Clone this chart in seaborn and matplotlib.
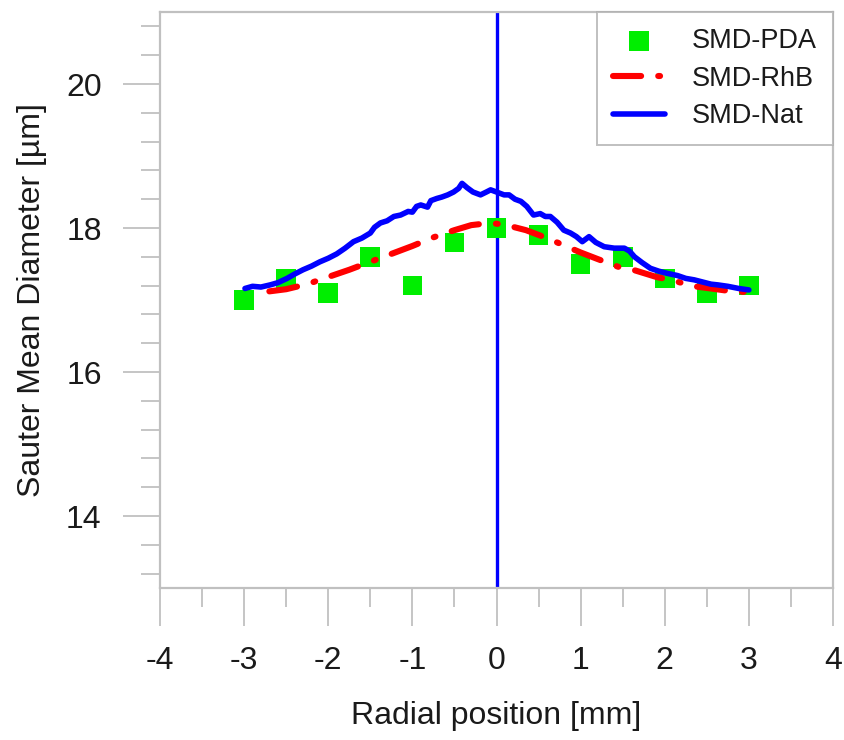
import matplotlib
matplotlib.use("Agg")
import matplotlib.pyplot as plt
import seaborn as sns
import pandas as pd
from matplotlib.ticker import MultipleLocator

# ---- data ----
pda_x = [-3, -2.5, -2, -1.5, -1, -0.5, 0, 0.5, 1, 1.5, 2, 2.5, 3]
pda_y = [17.0, 17.3, 17.1, 17.6, 17.2, 17.8, 18.0, 17.9, 17.5, 17.6, 17.3, 17.1, 17.2]

rhb_x = [-2.7, -2.5, -2.25, -2.0, -1.75, -1.5, -1.25, -1.0, -0.75, -0.5, -0.3, -0.15, 0.0,
         0.15, 0.35, 0.6, 0.8, 1.0, 1.2, 1.45, 1.65, 1.9, 2.1, 2.35, 2.55, 2.8, 3.0]
rhb_y = [17.12, 17.15, 17.22, 17.32, 17.42, 17.53, 17.64, 17.75, 17.87, 17.97, 18.04, 18.06, 18.06,
         18.03, 17.97, 17.86, 17.76, 17.66, 17.57, 17.46, 17.41, 17.32, 17.27, 17.19, 17.16, 17.12, 17.11]

nat_x = [-2.99, -2.9, -2.8, -2.69, -2.6, -2.49, -2.4, -2.3, -2.2, -2.1, -2.0, -1.9, -1.8, -1.7,
         -1.6, -1.5, -1.45, -1.38, -1.3, -1.22, -1.14, -1.05, -1.0, -0.95, -0.9, -0.82, -0.78,
         -0.71, -0.65, -0.58, -0.51, -0.45, -0.41, -0.35, -0.28, -0.19, -0.12, -0.07, 0.0,
         0.09, 0.15, 0.22, 0.29, 0.36, 0.44, 0.52, 0.58, 0.64, 0.72, 0.8, 0.88, 0.95, 1.02,
         1.1, 1.18, 1.28, 1.4, 1.52, 1.58, 1.64, 1.73, 1.83, 1.93, 2.03, 2.15, 2.25, 2.35,
         2.45, 2.55, 2.63, 2.75, 2.88, 3.0]
nat_y = [17.16, 17.19, 17.18, 17.21, 17.24, 17.30, 17.36, 17.42, 17.47, 17.53, 17.58, 17.64, 17.72,
         17.81, 17.86, 17.93, 18.01, 18.07, 18.10, 18.16, 18.18, 18.23, 18.22, 18.30, 18.32, 18.29,
         18.38, 18.41, 18.43, 18.46, 18.50, 18.55, 18.62, 18.56, 18.50, 18.46, 18.50, 18.53, 18.50,
         18.46, 18.46, 18.40, 18.37, 18.30, 18.18, 18.20, 18.16, 18.16, 18.08, 17.97, 17.93, 17.88, 17.81,
         17.88, 17.80, 17.74, 17.72, 17.72, 17.68, 17.60, 17.52, 17.44, 17.40, 17.37, 17.34, 17.30, 17.28,
         17.25, 17.22, 17.21, 17.19, 17.16, 17.14]

x_ticks = [-4, -3, -2, -1, 0, 1, 2, 3, 4]
y_ticks = [14, 16, 18, 20]

# ---- style ----
sns.set_style("white")
plt.rcParams['font.family'] = ['Liberation Sans', 'DejaVu Sans']

fig = plt.figure(figsize=(8.44, 7.40), dpi=100)
ax = fig.add_axes([160/844, 1 - 588/740, (833 - 160)/844, (588 - 12)/740])

pda = pd.DataFrame({"x": pda_x, "y": pda_y})
rhb = pd.DataFrame({"x": rhb_x, "y": rhb_y})
nat = pd.DataFrame({"x": nat_x, "y": nat_y})

ax.axvline(0, color="#0000ff", lw=2.4, zorder=1)
sns.scatterplot(data=pda, x="x", y="y", ax=ax, marker="s", s=200, color="#00ee00",
                edgecolor="none", label="SMD-PDA", zorder=2)
sns.lineplot(data=rhb, x="x", y="y", ax=ax, color="#ff0000", lw=4.4,
             label="SMD-RhB", zorder=3, sort=False)
ax.lines[-1].set_dashes([4.6, 2.8, 0.3, 2.8])
ax.lines[-1].set_dash_capstyle("round")
sns.lineplot(data=nat, x="x", y="y", ax=ax, color="#0000ff", lw=4.0,
             label="SMD-Nat", zorder=4, sort=False)

ax.set_xlim(-4, 4)
ax.set_ylim(13, 21)
ax.set_xticks(x_ticks)
ax.set_xticklabels([str(t) for t in x_ticks])
ax.set_yticks(y_ticks)
ax.set_yticklabels([str(t) for t in y_ticks])
ax.xaxis.set_minor_locator(MultipleLocator(0.5))
ax.yaxis.set_minor_locator(MultipleLocator(0.4))

gray = "#c0c0c0"
for sp in ax.spines.values():
    sp.set_color(gray)
    sp.set_linewidth(1.6)
    sp.set_visible(True)
ax.tick_params(which="major", direction="out", length=27, width=1.3, color=gray,
               labelsize=23, labelcolor="#1a1a1a", pad=15, left=True, bottom=True)
ax.tick_params(which="minor", direction="out", length=14, width=1.3, color=gray,
               left=True, bottom=True)

ax.set_xlabel("Radial position [mm]", fontsize=23, color="#1a1a1a", labelpad=18)
ax.set_ylabel("Sauter Mean Diameter [\u00b5m]", fontsize=23, color="#1a1a1a", labelpad=14)

leg = ax.legend(loc="upper right", fontsize=19.5, frameon=True, fancybox=False,
                borderaxespad=0, handlelength=1.9, handletextpad=1.0,
                borderpad=0.6, labelspacing=0.42, edgecolor="#b0b0b0")
leg.get_frame().set_linewidth(1.4)
for t in leg.get_texts():
    t.set_color("#1a1a1a")

fig.savefig("out.png", dpi=100, facecolor="white")
